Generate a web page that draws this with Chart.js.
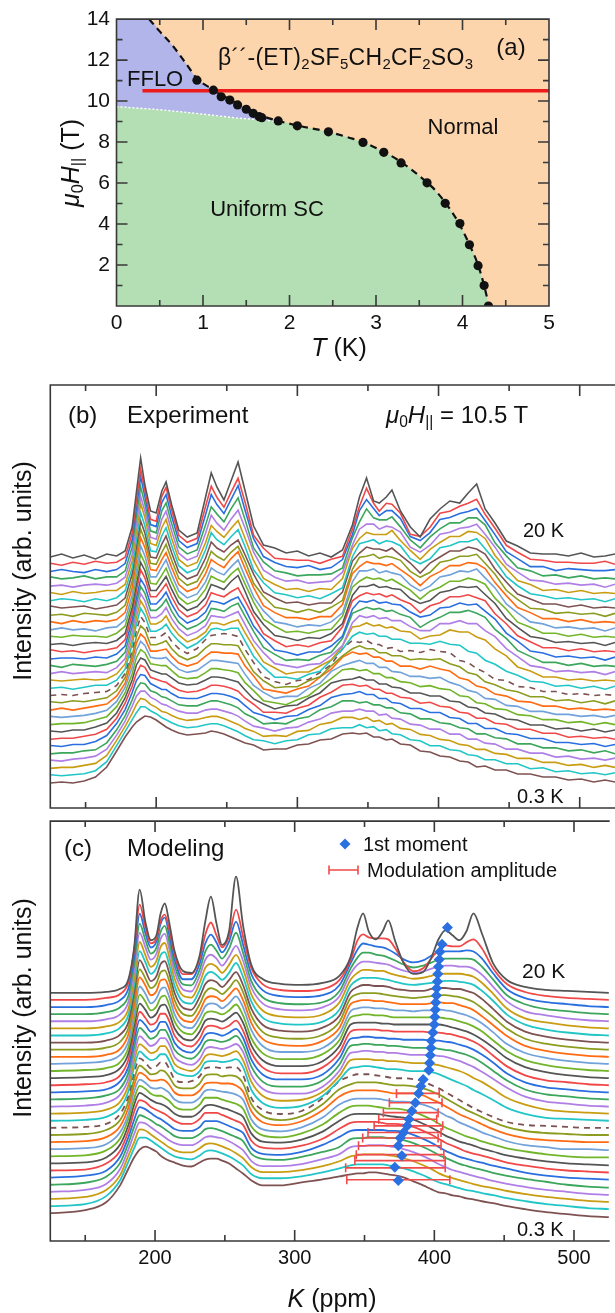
<!DOCTYPE html>
<html>
<head>
<meta charset="utf-8">
<script src="https://cdn.jsdelivr.net/npm/chart.js@4.4.1/dist/chart.umd.min.js"></script>
<style>
body{margin:0;background:#fff;width:615px;height:1313px;position:relative;overflow:hidden;font-family:'Liberation Sans',Arial,sans-serif;color:#111}
canvas{position:absolute;left:0}
.t{position:absolute;white-space:nowrap;line-height:1;transform:translate(0,-50%)}
.c{transform:translate(-50%,-50%)}
.r{transform:translate(-50%,-50%) rotate(-90deg)}
sub{font-size:0.65em;vertical-align:-0.28em;line-height:0}
</style>
</head>
<body>
<canvas id="pa" width="615" height="365" style="top:0"></canvas>
<canvas id="pb" width="615" height="430" style="top:380px"></canvas>
<canvas id="pc" width="615" height="498" style="top:815px"></canvas>

<div class="t" style="left:127px;top:79px;font-size:22px">FFLO</div>
<div class="t" style="left:218px;top:57px;font-size:23px;letter-spacing:0.3px">β´´-(ET)<sub>2</sub>SF<sub>5</sub>CH<sub>2</sub>CF<sub>2</sub>SO<sub>3</sub></div>
<div class="t c" style="left:511px;top:47px;font-size:24px">(a)</div>
<div class="t c" style="left:463px;top:127px;font-size:22px">Normal</div>
<div class="t c" style="left:267px;top:209px;font-size:22px">Uniform SC</div>
<div class="t r" style="left:70px;top:163px;font-size:25px"><i>μ</i><sub>0</sub><i>H</i><sub>||</sub> (T)</div>
<div class="t c" style="left:339px;top:347px;font-size:25px"><i>T</i> (K)</div>

<div class="t" style="left:68px;top:415px;font-size:24px">(b)</div>
<div class="t" style="left:127px;top:415px;font-size:24px">Experiment</div>
<div class="t" style="left:386px;top:415px;font-size:24px"><i>μ</i><sub>0</sub><i>H</i><sub>||</sub> = 10.5 T</div>
<div class="t" style="left:523px;top:530px;font-size:20px">20 K</div>
<div class="t" style="left:517px;top:796px;font-size:20px">0.3 K</div>
<div class="t r" style="left:22px;top:571px;font-size:25px">Intensity (arb. units)</div>

<div class="t" style="left:64px;top:848px;font-size:24px">(c)</div>
<div class="t" style="left:127px;top:848px;font-size:24px">Modeling</div>
<div class="t" style="left:363px;top:844px;font-size:20px">1st moment</div>
<div class="t" style="left:367px;top:870px;font-size:20px">Modulation amplitude</div>
<div class="t" style="left:522px;top:970px;font-size:21px">20 K</div>
<div class="t" style="left:517px;top:1229px;font-size:20px">0.3 K</div>
<div class="t r" style="left:22px;top:1008px;font-size:25px">Intensity (arb. units)</div>
<div class="t c" style="left:332px;top:1298px;font-size:25px"><i>K</i> (ppm)</div>

<script>
// ---- panel (a): phase diagram ----
const dotT = [0.93,1.12,1.21,1.31,1.40,1.50,1.58,1.65,1.68,1.87,2.09,2.45,2.85,3.09,3.29,3.59,3.80,3.97,4.08,4.18,4.25,4.30];
const dotH = [11.02,10.53,10.21,10.05,9.81,9.60,9.40,9.24,9.19,9.03,8.79,8.50,7.98,7.50,6.98,6.01,5.01,4.02,2.99,1.97,1.00,0.0];
const hc2T = [0.376,0.5,0.65,0.8,0.93,1.1,1.3,1.5,1.7,1.9,2.1,2.45,2.7,2.85,3.1,3.3,3.5,3.65,3.8,3.95,4.08,4.18,4.25,4.29];
const hc2H = [14,13.4,12.7,11.85,11.1,10.6,10.1,9.65,9.25,9.0,8.8,8.5,8.2,8.0,7.5,7.0,6.35,5.8,5.05,4.1,3.0,2.0,1.0,0.3];
const ffloT = [0,0.5,0.92,1.4,1.9];
const ffloH = [9.73,9.58,9.40,9.17,9.0];
const redT = [0.3,5];
const redH = 10.5;
const tTicks = [0,1,2,3,4,5];
const hTicks = [2,4,6,8,10,12,14];

// ---- panels (b), (c): K axis ----
const kTicks = [200,300,400,500];
const kExp = [125,133,141,149,157,165,172,178,183,186,189,192,196,200,204,207,211,216,222,229,235,239,243,248,253,258,263,269,276,284,292,300,308,316,324,332,339,344,349,354,358,363,367,373,380,387,394,401,408,415,421,427,433,440,448,456,465,474,483,492,501,510,518,525];
// rows: 20 K (top) ... 0.3 K (bottom), height above each trace's own baseline
const expRows = [
[0,3,-1,2,-2,3, 1,6,30,65,99,72,46,44,66,75,52,27,20,24,60,84,70,57,76,95,66, 31,12,9,4,6,1,4,0,7, 32,60,79,56,54,60,67,46,30,20,38,48,56,54,64,73,48,34,16,11,4,3,3,1,4,0,1,3],
[1,-1,2,0,3,1, 2,7,31,64,95,74,45,43,68,77,54,29,22,26,58,78,67,57,72,86,62, 29,16,6,5,4,4,1,5,8, 35,58,76,61,53,61,60,51,30,28,37,51,53,58,61,65,50,36,19,12,5,4,2,2,1,1,3,0],
[0,2,0,-1,2,0, 2,8,32,64,95,75,47,45,69,77,55,31,24,28,57,77,67,58,72,86,61, 33,15,9,5,4,6,2,4,12, 37,61,72,63,56,61,61,53,35,31,39,52,54,58,60,63,51,37,20,13,5,5,1,3,2,1,1,2],
[2,0,1,3,0,2, 2,8,32,63,92,75,48,46,68,76,55,32,25,29,54,72,65,57,70,81,59, 31,17,8,6,3,4,4,5,11, 41,57,70,61,59,59,62,52,39,31,42,50,56,56,61,61,54,36,23,11,8,3,4,1,3,0,1,0],
[0,1,-1,1,2,1, 3,9,32,62,90,75,49,47,67,75,55,33,26,30,53,71,63,56,67,76,58, 34,16,9,5,6,3,4,5,14, 41,57,62,62,57,60,59,54,39,34,41,52,54,58,59,62,52,39,22,14,6,5,2,3,1,2,-1,2],
[1,-1,2,0,1,3, 3,9,33,62,90,76,50,48,66,74,55,34,27,31,51,68,62,56,65,73,55, 33,15,9,4,5,2,5,4,15, 45,55,61,59,59,59,63,53,43,34,44,51,57,57,62,61,55,38,25,13,9,3,4,1,3,0,1,0],
[0,2,1,-1,2,0, 3,10,33,61,88,75,50,49,65,73,55,35,28,32,51,68,61,56,64,71,54, 31,18,8,6,3,5,2,7,13, 44,57,59,61,57,60,59,55,42,37,42,53,55,59,59,62,52,40,24,15,7,5,2,3,1,2,-1,2],
[2,0,1,2,-1,1, 3,10,34,61,87,75,51,50,64,72,55,36,29,33,50,66,60,56,63,68,53, 34,16,10,5,6,3,5,5,16, 47,55,61,59,59,57,60,53,45,35,45,51,57,57,61,59,54,39,26,14,9,4,4,1,3,0,1,0],
[0,1,-1,2,1,0, 3,10,34,61,86,75,52,51,63,71,55,37,30,34,49,64,59,55,63,69,54, 32,19,8,6,3,6,3,8,15, 46,58,59,61,57,59,58,55,44,38,43,53,55,59,59,61,52,41,25,16,7,6,2,3,1,2,-1,2],
[1,-1,2,0,2,1, 3,10,35,61,85,75,53,52,63,70,55,38,31,35,49,63,59,55,64,71,54, 35,17,10,5,5,3,6,6,18, 49,56,61,59,59,57,59,53,46,37,46,51,57,57,60,59,54,40,27,15,10,4,4,1,3,0,1,0],
[0,2,0,1,-1,2, 3,10,35,60,84,74,53,53,63,70,55,39,32,36,48,62,58,55,63,70,53, 33,19,8,6,3,5,4,8,17, 48,59,59,61,57,59,57,55,45,39,44,53,55,59,58,61,52,42,26,17,8,6,2,3,1,2,-1,2],
[1,0,2,1,1,0, 4,11,36,60,83,74,54,53,62,69,55,40,33,37,48,61,58,55,63,69,53, 35,18,11,5,6,4,7,8,21, 50,56,60,58,59,56,58,53,47,38,46,50,56,56,59,57,53,39,28,15,10,4,4,1,3,0,1,0],
[0,1,-1,1,2,1, 4,11,37,60,82,74,54,54,62,68,55,41,34,38,47,60,58,55,63,69,53, 33,20,9,7,4,7,6,11,21, 49,58,58,60,57,58,56,55,46,41,44,52,54,58,57,58,50,41,26,17,8,6,2,3,1,2,-1,2],
[2,0,1,-1,1,2, 4,12,38,61,82,74,55,55,62,68,55,42,35,39,47,59,57,55,60,64,51, 35,18,11,5,7,5,9,11,25, 51,56,59,57,58,55,57,52,48,39,46,49,55,55,57,54,51,38,28,16,10,4,4,1,3,0,1,0],
[0,1,1,0,2,1, 5,13,39,61,80,73,55,55,61,67,55,43,36,40,47,58,57,55,59,62,50, 33,21,9,7,4,7,7,13,23, 50,58,57,59,56,57,55,54,47,42,44,51,52,56,54,55,48,40,26,18,8,6,2,3,1,2,-1,2],
[1,-1,2,1,0,2, 5,14,40,62,80,73,56,56,61,67,55,44,37,41,47,58,57,55,60,63,50, 35,19,12,6,7,6,11,14,28, 53,56,59,57,58,55,56,52,49,39,45,49,54,54,56,53,49,37,28,16,10,4,4,1,3,0,1,0],
[0,2,0,1,2,1, 6,15,41,62,80,73,56,56,60,66,55,45,38,42,48,58,57,56,59,62,49, 33,21,10,8,6,9,10,18,28, 51,58,56,58,55,56,53,53,47,43,43,50,50,53,50,50,43,37,25,17,8,6,2,3,1,2,-1,2],
[1,0,1,2,1,2, 7,17,42,63,80,73,57,57,60,65,55,46,39,43,49,58,58,56,59,61,48, 34,19,13,7,9,9,15,21,35, 54,55,58,55,56,53,54,50,49,42,45,46,51,49,49,44,41,32,25,14,10,4,4,1,2,0,1,0],
[0,1,-1,1,3,3, 8,19,44,64,80,73,57,57,60,64,55,47,40,45,52,59,60,58,60,60,47, 32,21,11,11,9,14,17,28,39, 52,56,54,55,52,52,49,49,45,45,44,47,44,43,37,35,28,24,17,13,7,6,2,3,0,2,-1,2],
[0,1,0,2,3,4, 10,22,45,65,79,73,58,58,60,63,54,47,42,47,56,60,61,62,61,59,46, 33,19,14,11,15,16,23,31,47, 55,53,55,51,51,47,48,44,45,43,46,44,43,35,33,27,23,16,15,9,8,4,4,1,2,0,1,0],
[1,0,2,1,3,5, 12,25,47,66,77,73,58,58,60,62,54,47,43,47,55,59,59,58,58,57,45, 31,22,15,16,16,22,26,37,47, 54,57,54,54,50,50,47,47,43,44,43,44,39,36,30,28,21,18,13,11,6,6,2,3,0,2,-1,2],
[0,2,0,2,4,6, 14,27,49,67,76,72,59,59,60,61,54,47,44,47,54,58,58,57,57,56,44, 34,21,19,17,21,24,33,41,53, 58,56,57,53,53,49,49,44,44,41,44,41,39,32,30,24,22,16,14,9,8,4,4,1,2,0,1,0],
[1,0,1,2,4,7, 16,30,50,67,76,72,60,59,59,60,54,48,45,47,53,57,57,56,55,54,43, 32,25,19,21,21,29,34,46,52, 55,57,54,54,50,50,46,45,41,41,39,40,35,32,27,25,19,18,12,11,6,6,3,3,1,2,0,2],
[0,1,1,2,5,8, 18,32,51,67,75,72,61,60,59,59,54,48,46,47,52,56,56,55,54,52,42, 34,24,22,20,25,29,38,46,55, 56,54,55,51,51,47,47,43,42,38,39,36,35,29,28,22,21,16,15,10,9,5,5,2,3,0,2,0],
[1,0,2,2,5,9, 19,34,52,67,74,72,62,60,58,58,54,49,47,48,52,55,55,54,52,50,42, 33,28,23,26,27,34,39,49,52, 53,55,52,52,48,48,45,44,39,39,36,36,31,30,25,24,19,18,13,12,7,7,3,4,1,3,0,2],
[0,1,1,3,5,10, 21,36,53,66,74,72,62,60,58,57,53,49,47,48,51,54,54,53,51,48,41, 35,27,27,26,31,34,42,47,54, 55,53,54,50,50,46,46,42,41,36,37,33,32,27,26,21,21,16,15,10,10,6,6,2,3,1,2,0],
[1,0,2,2,5,11, 23,37,54,66,72,71,63,60,57,57,53,49,48,48,51,53,53,52,50,47,41, 34,31,27,30,31,37,41,49,52, 53,55,52,52,48,48,44,43,38,38,34,34,29,28,23,23,18,18,13,12,8,8,4,4,2,3,0,2],
[0,1,1,3,4,11, 24,38,54,65,71,70,63,61,57,56,53,49,48,48,51,53,53,51,49,46,40, 36,30,31,30,35,37,44,47,53, 53,51,52,49,49,46,46,41,40,35,35,31,30,26,25,20,20,16,15,10,10,6,6,3,4,1,3,0],
[1,0,2,3,5,12, 26,40,55,65,70,70,64,61,57,56,53,50,48,48,51,52,52,50,48,45,40, 35,33,30,33,34,39,42,48,50, 50,52,50,50,46,47,43,42,37,36,32,32,27,27,22,22,18,17,12,12,8,8,4,5,2,3,1,3],
[0,1,1,3,5,13, 28,42,55,64,70,69,64,61,57,56,53,50,48,49,51,52,52,50,47,44,40, 37,32,33,32,37,38,44,46,51, 51,49,51,47,48,44,45,40,39,34,33,29,28,24,23,19,19,15,14,10,10,6,6,3,4,1,3,1],
[1,0,1,2,5,14, 30,44,56,63,69,69,65,62,58,56,53,50,48,49,51,52,52,50,47,44,40, 36,35,32,35,36,41,42,47,48, 48,51,48,49,45,46,42,41,36,35,30,30,26,25,21,20,16,16,12,12,7,8,4,5,2,3,1,3],
[0,1,0,2,6,16, 32,46,56,61,64,67,66,63,59,56,53,50,48,49,50,52,51,49,46,43,40, 38,33,34,34,38,39,43,44,49, 50,49,50,46,46,43,44,39,38,32,31,27,26,22,21,16,17,13,13,9,9,6,6,3,4,1,3,1]
];

const kModel = [125,150,165,175,181,185,189,193,197,201,204,207,210,214,220,226,232,236,240,244,248,253,258,263,269,277,290,305,320,332,340,345,349,353,358,363,367,372,378,385,392,398,403,408,413,418,423,428,434,442,452,465,480,495,510,525];
const modelRows = [
[0,0,1,4,14,45,104,72,53,58, 80,90,72,42,22,20,38,72,97,70, 48,62,117,68,28,14,9,8,10,17, 36,66,80,62,54,62,73,52,30,19, 21,36,54,63,58,53,62,80,60,30, 13,6,3,2,1,0],
[0,0,2,6,18,50,96,74,57,62, 80,86,72,46,26,26,42,66,78,65, 53,64,91,64,32,16,10,9,11,20, 40,60,66,63,62,62,61,52,38,29, 32,42,51,55,54,54,58,61,52,32, 16,8,4,2,1,0],
[0,0,2,7,19,50,94,75,60,66, 84,90,74,48,28,28,44,64,73,65, 55,66,86,63,33,17,11,10,12,22, 44,58,64,63,61,60,58,54,48,45, 47,52,55,56,56,56,57,56,49,34, 18,9,5,3,1,0],
[0,0,2,7,19,50,91,75,61,67, 83,89,74,49,30,29,45,63,70,64, 56,66,82,62,33,17,11,10,12,23, 46,57,62,62,60,59,57,54,50,47, 49,52,55,56,56,56,56,55,48,35, 19,10,5,3,1,0],
[0,0,2,7,20,50,89,75,62,68, 83,88,74,50,32,30,46,62,67,63, 56,65,76,61,34,18,12,11,14,25, 48,57,60,60,59,58,57,54,51,49, 50,53,55,56,56,55,55,53,47,35, 20,10,6,3,1,0],
[0,0,2,7,20,50,87,74,62,68, 82,86,73,50,33,31,46,61,65,62, 56,64,74,60,34,18,12,11,14,26, 49,56,59,59,58,58,56,54,52,50, 51,53,55,55,55,55,54,52,46,35, 20,10,6,3,1,0],
[0,0,2,8,21,50,85,74,62,68, 81,84,72,50,34,32,46,60,64,61, 56,63,73,59,34,18,12,11,14,26, 50,56,58,58,58,57,56,54,52,51, 52,53,54,55,55,54,53,51,45,35, 21,11,6,3,1,0],
[0,0,2,8,21,50,83,73,62,67, 79,82,71,50,35,33,46,59,63,61, 56,63,71,58,34,18,12,11,15,27, 51,56,58,58,57,57,56,54,53,52, 52,54,55,55,54,54,52,50,44,34, 21,11,6,3,1,0],
[0,0,2,8,22,50,81,72,62,67, 78,80,70,50,36,34,46,58,62,60, 56,62,70,58,34,18,12,11,15,28, 52,56,57,57,57,56,55,54,53,52, 53,54,55,55,54,53,51,48,42,33, 21,11,6,3,1,0],
[0,0,2,8,23,51,80,72,62,66, 77,78,69,50,37,35,46,58,61,60, 56,62,69,57,34,18,12,11,16,29, 53,56,57,57,56,56,55,54,53,53, 53,54,55,54,54,52,50,47,41,32, 21,11,6,3,1,0],
[0,1,3,9,23,51,78,71,61,66, 75,77,68,50,38,36,47,58,61,60, 56,61,68,57,34,18,12,12,16,30, 53,56,57,57,56,56,55,54,54,53, 54,54,55,54,53,51,49,46,41,32, 20,11,6,3,1,0],
[0,1,3,9,24,51,77,70,61,65, 74,76,67,50,39,37,47,58,60,59, 57,61,67,56,33,18,12,12,17,31, 54,56,57,57,56,56,55,54,54,54, 54,54,54,53,52,50,48,45,40,31, 20,11,6,3,1,0],
[0,1,3,10,25,52,75,69,61,65, 73,74,66,50,40,38,47,58,60,59, 57,61,66,56,33,18,12,12,17,32, 54,56,56,56,56,55,55,54,54,54, 54,54,54,53,51,49,47,44,39,31, 20,11,6,3,1,0],
[0,1,3,10,26,52,74,68,61,64, 72,72,65,50,41,39,47,58,60,59, 57,60,65,55,33,18,12,12,18,33, 54,56,56,56,56,55,55,54,54,54, 54,53,53,52,51,49,47,44,39,30, 19,10,5,3,1,0],
[0,1,3,11,26,52,73,68,61,64, 71,71,64,50,42,40,48,58,60,59, 57,60,64,55,33,18,13,13,18,34, 54,55,56,56,55,55,54,54,53,53, 53,52,52,51,50,48,46,43,38,30, 19,10,5,3,1,0],
[0,1,4,11,27,52,72,67,61,64, 70,70,63,50,43,41,48,58,60,59, 58,60,64,55,33,18,13,13,19,35, 54,55,56,56,55,55,54,54,53,52, 52,52,51,50,49,47,45,42,37,29, 19,10,5,3,1,0],
[0,1,4,12,28,52,71,66,61,64, 69,69,63,50,44,42,48,58,60,59, 58,60,63,55,32,18,13,13,20,36, 54,55,56,56,55,55,54,54,53,52, 52,52,51,50,48,46,43,40,35,28, 19,10,5,3,1,0],
[0,1,4,12,29,53,70,66,61,63, 68,68,62,50,45,43,49,58,60,59, 58,60,63,54,32,18,13,14,22,38, 54,55,55,55,54,54,53,53,52,51, 51,50,49,47,45,43,40,36,32,25, 16,9,4,2,1,0],
[0,1,4,13,30,54,70,65,61,63, 67,67,61,50,46,45,50,59,60,60, 59,60,62,54,31,18,13,15,25,41, 53,54,55,55,54,53,52,52,51,50, 50,49,47,44,41,38,35,31,27,21, 13,7,3,2,1,0],
[0,1,4,14,32,55,70,66,60,62, 66,66,60,49,46,47,52,60,61,61, 60,61,61,53,30,18,14,17,30,47, 52,54,54,54,53,52,51,50,50,49, 47,43,40,36,32,28,24,20,16,11, 6,3,2,1,0,0],
[0,1,5,15,34,56,70,66,61,62, 65,64,59,50,47,47,52,60,61,61, 59,60,59,52,31,19,15,19,31,46, 51,53,53,53,53,52,51,50,50,49, 47,44,41,37,33,29,25,22,18,13, 8,4,2,1,0,0],
[0,1,5,16,35,57,70,67,62,62, 63,62,58,50,47,47,52,59,60,60, 59,59,57,51,31,20,17,21,32,46, 51,52,52,52,52,51,50,49,49,49, 47,43,40,36,32,28,25,22,18,13, 8,4,2,1,0,0],
[0,1,5,17,36,58,70,67,62,61, 62,60,57,50,47,47,52,59,60,59, 58,57,55,50,30,20,18,22,32,45, 50,51,51,51,51,50,49,48,48,47, 45,42,38,34,31,27,24,21,17,13, 8,4,2,0,0,-1],
[0,1,6,18,38,58,71,68,63,61, 61,59,56,50,47,47,52,59,59,59, 57,55,53,48,30,21,19,23,32,44, 50,51,51,51,50,49,48,48,47,45, 41,37,33,29,26,23,20,18,15,12, 8,5,2,0,-1,-1],
[0,1,6,19,39,59,71,68,64,61, 60,58,55,50,47,47,52,58,59,58, 56,54,51,47,30,22,21,24,32,43, 49,50,50,50,50,49,48,47,46,44, 40,36,32,28,25,22,20,18,15,12, 8,5,2,0,-1,-2],
[0,1,7,20,40,59,71,69,64,61, 59,57,54,50,47,47,52,58,58,58, 56,53,50,46,30,23,22,25,32,42, 48,49,49,49,49,48,47,47,46,44, 40,36,32,28,25,22,19,17,15,12, 8,5,2,0,-1,-2],
[0,2,7,21,41,58,71,69,65,61, 59,56,53,49,47,47,51,57,57,57, 55,52,49,45,30,24,23,26,33,41, 47,48,48,48,48,48,47,47,46,43, 39,35,31,27,24,21,19,17,15,12, 9,5,2,0,-1,-2],
[0,2,8,22,42,58,70,68,65,61, 59,56,53,49,47,47,51,56,57,56, 54,51,48,44,31,26,25,28,33,38, 46,47,47,48,48,48,47,47,45,42, 38,34,30,27,24,21,19,17,15,12, 9,6,3,0,-2,-3],
[0,2,8,23,43,58,70,69,65,61, 58,55,52,49,47,47,51,55,56,55, 54,51,47,42,31,26,26,28,33,38, 45,46,46,47,47,47,46,45,43,40, 36,32,28,25,22,20,18,16,14,11, 8,5,2,0,-2,-3],
[0,2,9,24,44,57,70,69,65,61, 58,55,52,49,47,47,51,55,56,55, 53,50,46,41,32,27,27,29,33,38, 43,44,45,45,45,45,44,43,41,38, 34,30,26,23,21,19,17,15,13,11, 8,5,2,0,-2,-3],
[0,2,10,26,45,58,69,69,66,62, 59,56,53,50,48,47,51,55,56,55, 53,50,46,41,32,28,28,30,34,38, 41,42,42,42,42,42,41,40,38,35, 31,27,24,22,20,18,16,15,13,11, 8,5,2,0,-2,-3],
[0,3,11,28,45,56,64,67,65,62, 58,55,53,51,48,47,51,54,55,55, 53,50,45,40,33,28,28,31,34,37, 39,40,40,41,41,40,39,38,36,32, 28,24,21,20,18,17,15,14,12,10, 7,4,1,-1,-3,-4]
];

// 1st moment (one per modeled trace) and modulation amplitude bars
const momentK = [409.4,405.5,404.0,403.5,403.0,402.5,402.2,401.7,401.5,401.0,400.7,400.4,399.9,399.0,397.9,397.6,397.1,396.6,396.1,392.0,390.3,388.7,386.4,383.9,381.8,380.6,378.0,375.5,374.2,376.7,371.7,374.2];
const momentY = [315.7,299,291.3,283.7,276.3,269,261.3,254.7,247.3,240.3,233,225.7,218,210,201.7,194.3,187,179.3,172,162.7,156,148.7,139.3,131,122.7,116,109.3,103.7,96,86,74.3,61];
const errY  = [148.7,139.3,129.3,122.7,116,109.3,103.7,96,87,81,73.7,61.7];
const errLo = [372.9,367.8,363.5,360.2,356.9,352.5,348.7,345.7,344.1,343.1,336.5,337.3];
const errHi = [403.5,405.5,402.7,401.7,406.0,404.8,402.7,404.8,406.8,407.8,407.8,411.1];

const expBase = 251, expStep = 7.29;
const modBase = 250, modStep = 7.16;

const palette = ['#555555','#f04848','#2a6fe0','#3ca65c','#b07fe6','#c99d12','#22c6c6','#7e5252','#8c9c1e','#ff6c14','#72a2da','#72b52a'];
const momentColor = '#2a70e0';
const barColor = '#f04a4a';
const axisColor = '#383838';

Chart.defaults.font.family = "'Liberation Sans', Arial, sans-serif";
Chart.defaults.color = '#111';

// box, inward ticks, optional background
const frame = {
  id: 'frame',
  beforeDatasetsDraw(chart, args, o) {
    if (!o.bg) return;
    const a = chart.chartArea, ctx = chart.ctx;
    ctx.save();
    ctx.fillStyle = o.bg;
    ctx.fillRect(a.left, a.top, a.right - a.left, a.bottom - a.top);
    ctx.restore();
  },
  afterDraw(chart, args, o) {
    const {ctx, chartArea: a, scales: {x, y}} = chart;
    ctx.save();
    ctx.strokeStyle = axisColor;
    ctx.lineWidth = 1.6;
    ctx.lineCap = 'square';
    ctx.beginPath();
    ctx.moveTo(a.left, a.top); ctx.lineTo(a.left, a.bottom);
    ctx.moveTo(a.left, a.bottom); ctx.lineTo(a.right, a.bottom);
    ctx.moveTo(a.left, a.top); ctx.lineTo(a.right, a.top);
    if (o.right) { ctx.moveTo(a.right, a.top); ctx.lineTo(a.right, a.bottom); }
    ctx.stroke();
    ctx.lineCap = 'butt';
    ctx.beginPath();
    (o.xt || []).forEach(([v, len]) => {
      const p = x.getPixelForValue(v);
      ctx.moveTo(p, a.bottom); ctx.lineTo(p, a.bottom - len);
      ctx.moveTo(p, a.top); ctx.lineTo(p, a.top + len);
    });
    (o.yt || []).forEach(([v, len]) => {
      const p = y.getPixelForValue(v);
      ctx.moveTo(a.left, p); ctx.lineTo(a.left + len, p);
      ctx.moveTo(a.right, p); ctx.lineTo(a.right - len, p);
    });
    ctx.stroke();
    ctx.restore();
  }
};
Chart.register(frame);

const base = {
  animation: false,
  responsive: false,
  devicePixelRatio: 1,
  events: [],
  elements: {point: {radius: 0}}
};

// ---------- (a) ----------
const hc2 = hc2T.map((t, i) => ({x: t, y: hc2H[i]}));
const blueData = [{x: 0, y: 14}].concat(hc2.filter(p => p.x <= 1.9));
const greenData = ffloT.map((t, i) => ({x: t, y: ffloH[i]})).concat(hc2.filter(p => p.x > 1.9));

let xt = [], yt = [];
for (let v = 0.5; v < 5; v += 0.5) xt.push([v, Number.isInteger(v) ? 11 : 6]);
for (let v = 1; v < 14; v++) yt.push([v, v % 2 === 0 ? 11 : 6]);

new Chart(document.getElementById('pa'), {
  type: 'line',
  data: {
    datasets: [
      {data: blueData, fill: 'start', backgroundColor: '#b1b5ea', borderWidth: 0, cubicInterpolationMode: 'monotone', order: 6},
      {data: greenData, fill: 'start', backgroundColor: '#b4deb3', borderWidth: 0, cubicInterpolationMode: 'monotone', order: 5},
      {data: ffloT.map((t, i) => ({x: t, y: ffloH[i]})), borderColor: '#ffffff', borderWidth: 1.4, borderDash: [2, 2], fill: false, order: 4},
      {data: hc2, borderColor: '#111', borderWidth: 2.2, borderDash: [7, 5], fill: false, cubicInterpolationMode: 'monotone', order: 3},
      {data: redT.map(t => ({x: t, y: redH})), borderColor: '#ee1b1b', borderWidth: 3.5, fill: false, order: 2},
      {data: dotT.map((t, i) => ({x: t, y: dotH[i]})), showLine: false, pointRadius: 4.6, pointBackgroundColor: '#111', pointBorderWidth: 0, order: 1}
    ]
  },
  options: Object.assign({}, base, {
    layout: {padding: {left: 0, top: 18, right: 66, bottom: 0}},
    plugins: {legend: {display: false}, tooltip: {enabled: false}, frame: {bg: '#fdd5ad', right: true, xt: xt, yt: yt}},
    scales: {
      x: {type: 'linear', min: 0, max: 5,
          afterBuildTicks: s => { s.ticks = tTicks.map(v => ({value: v})); },
          afterFit: s => { s.height = 59; },
          ticks: {font: {size: 21}, padding: 5, maxRotation: 0, autoSkip: false},
          grid: {display: false, drawTicks: false}, border: {display: false}},
      y: {type: 'linear', min: 0, max: 14,
          afterBuildTicks: s => { s.ticks = hTicks.map(v => ({value: v})); },
          afterFit: s => { s.width = 116.5; },
          ticks: {font: {size: 21}, padding: 6.5, autoSkip: false},
          grid: {display: false, drawTicks: false}, border: {display: false}}
    }
  })
});

// ---------- (b), (c) ----------
const kt = [[150, 6], [200, 11], [250, 6], [300, 11], [350, 6], [400, 11], [450, 6], [500, 11]];

function traces(kk, rows, b0, step, smooth, width) {
  return rows.map((row, i) => ({
    data: kk.map((k, j) => ({x: k, y: b0 - step * i + row[j]})),
    borderColor: palette[i % 12],
    borderWidth: width,
    borderDash: i === 19 ? [6, 5] : [],
    tension: 0,
    cubicInterpolationMode: smooth ? 'monotone' : 'default',
    fill: false,
    order: 1
  }));
}

new Chart(document.getElementById('pb'), {
  type: 'line',
  data: {datasets: traces(kExp, expRows, expBase, expStep, false, 1.6)},
  options: Object.assign({}, base, {
    layout: {padding: {left: 50.3, top: 5, right: 0, bottom: 2}},
    plugins: {legend: {display: false}, tooltip: {enabled: false}, frame: {xt: kt}},
    scales: {
      x: {type: 'linear', min: 125, max: 525, display: false},
      y: {type: 'linear', min: 0, max: 423, display: false}
    }
  })
});

const legendMarks = {
  id: 'legendMarks',
  afterDraw(chart) {
    const ctx = chart.ctx;
    ctx.save();
    ctx.fillStyle = momentColor;
    ctx.beginPath();
    ctx.moveTo(345, 23.5); ctx.lineTo(350.5, 29); ctx.lineTo(345, 34.5); ctx.lineTo(339.5, 29);
    ctx.closePath(); ctx.fill();
    ctx.strokeStyle = barColor; ctx.lineWidth = 1.6;
    ctx.beginPath();
    ctx.moveTo(329, 55); ctx.lineTo(358, 55);
    ctx.moveTo(329, 50.5); ctx.lineTo(329, 59.5);
    ctx.moveTo(358, 50.5); ctx.lineTo(358, 59.5);
    ctx.stroke();
    ctx.restore();
  }
};

const cSets = traces(kModel, modelRows, modBase, modStep, true, 1.8);
errY.forEach((yv, j) => {
  cSets.push({
    data: [{x: errLo[j], y: yv}, {x: errHi[j], y: yv}],
    borderColor: barColor, borderWidth: 1.6, fill: false,
    pointStyle: 'line', rotation: 90, pointRadius: 4.5,
    pointBorderColor: barColor, pointBorderWidth: 1.6, order: -1
  });
});
cSets.push({
  data: momentK.map((k, i) => ({x: k, y: momentY[i]})),
  showLine: false, pointStyle: 'rectRot', pointRadius: 5.5,
  pointBackgroundColor: momentColor, pointBorderColor: momentColor, pointBorderWidth: 0, order: -2
});

new Chart(document.getElementById('pc'), {
  type: 'line',
  data: {datasets: cSets},
  plugins: [legendMarks],
  options: Object.assign({}, base, {
    layout: {padding: {left: 50.3, top: 3, right: 0, bottom: 0}},
    plugins: {legend: {display: false}, tooltip: {enabled: false}, frame: {xt: kt}},
    scales: {
      x: {type: 'linear', min: 125, max: 525,
          afterBuildTicks: s => { s.ticks = kTicks.map(v => ({value: v})); },
          afterFit: s => { s.height = 72; },
          ticks: {font: {size: 20}, padding: 5, maxRotation: 0, autoSkip: false},
          grid: {display: false, drawTicks: false}, border: {display: false}},
      y: {type: 'linear', min: 0, max: 423, display: false}
    }
  })
});
</script>
</body>
</html>
